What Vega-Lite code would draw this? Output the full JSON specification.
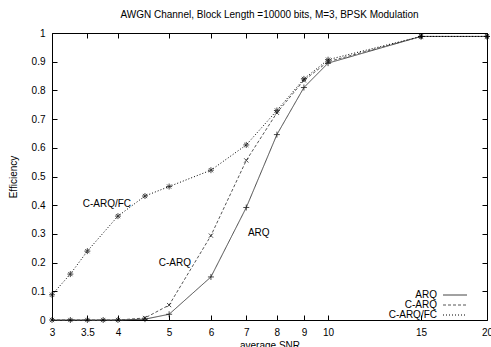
{
  "$schema": "https://vega.github.io/schema/vega-lite/v6.json",
  "width": 435,
  "height": 287,
  "autosize": {"type": "none"},
  "padding": {"left": 52, "top": 33, "right": 4, "bottom": 27},
  "background": "white",
  "config": {
    "font": "Liberation Sans",
    "view": {"stroke": "black", "strokeWidth": 1},
    "axis": {
      "grid": false,
      "domain": false,
      "tickColor": "black",
      "tickSize": -5,
      "labelFont": "Liberation Sans",
      "labelFontSize": 10,
      "labelColor": "black",
      "titleFont": "Liberation Sans",
      "titleFontSize": 10,
      "titleFontWeight": "normal",
      "titleColor": "black",
      "labelFlush": false
    },
    "legend": {
      "symbolType": "M-3,0H3",
      "symbolSize": 64,
      "symbolStrokeWidth": 1,
      "labelAlign": "right",
      "labelOffset": -23,
      "rowPadding": 0,
      "labelFontSize": 10,
      "labelFont": "Liberation Sans",
      "labelColor": "black"
    }
  },
  "title": {
    "text": "AWGN Channel, Block Length =10000 bits, M=3, BPSK Modulation",
    "fontSize": 10,
    "fontWeight": "normal",
    "font": "Liberation Sans",
    "anchor": "middle",
    "offset": 8
  },
  "datasets": {
    "curves": [
      {"series": "ARQ", "snr": 3, "eff": 0},
      {"series": "ARQ", "snr": 3.25, "eff": 0},
      {"series": "ARQ", "snr": 3.5, "eff": 0},
      {"series": "ARQ", "snr": 3.75, "eff": 0},
      {"series": "ARQ", "snr": 4, "eff": 0},
      {"series": "ARQ", "snr": 4.5, "eff": 0.003},
      {"series": "ARQ", "snr": 5, "eff": 0.02},
      {"series": "ARQ", "snr": 6, "eff": 0.15},
      {"series": "ARQ", "snr": 7, "eff": 0.392},
      {"series": "ARQ", "snr": 8, "eff": 0.646},
      {"series": "ARQ", "snr": 9, "eff": 0.81},
      {"series": "ARQ", "snr": 10, "eff": 0.895},
      {"series": "ARQ", "snr": 15, "eff": 0.988},
      {"series": "ARQ", "snr": 20, "eff": 0.988},
      {"series": "C-ARQ", "snr": 3, "eff": 0},
      {"series": "C-ARQ", "snr": 3.25, "eff": 0},
      {"series": "C-ARQ", "snr": 3.5, "eff": 0},
      {"series": "C-ARQ", "snr": 3.75, "eff": 0},
      {"series": "C-ARQ", "snr": 4, "eff": 0},
      {"series": "C-ARQ", "snr": 4.5, "eff": 0.007},
      {"series": "C-ARQ", "snr": 5, "eff": 0.052},
      {"series": "C-ARQ", "snr": 6, "eff": 0.294},
      {"series": "C-ARQ", "snr": 7, "eff": 0.556},
      {"series": "C-ARQ", "snr": 8, "eff": 0.722},
      {"series": "C-ARQ", "snr": 9, "eff": 0.835},
      {"series": "C-ARQ", "snr": 10, "eff": 0.9},
      {"series": "C-ARQ", "snr": 15, "eff": 0.988},
      {"series": "C-ARQ", "snr": 20, "eff": 0.988},
      {"series": "C-ARQ/FC", "snr": 3, "eff": 0.088},
      {"series": "C-ARQ/FC", "snr": 3.25, "eff": 0.16},
      {"series": "C-ARQ/FC", "snr": 3.5, "eff": 0.24},
      {"series": "C-ARQ/FC", "snr": 4, "eff": 0.362},
      {"series": "C-ARQ/FC", "snr": 4.5, "eff": 0.432},
      {"series": "C-ARQ/FC", "snr": 5, "eff": 0.465},
      {"series": "C-ARQ/FC", "snr": 6, "eff": 0.522},
      {"series": "C-ARQ/FC", "snr": 7, "eff": 0.61},
      {"series": "C-ARQ/FC", "snr": 8, "eff": 0.73},
      {"series": "C-ARQ/FC", "snr": 9, "eff": 0.84},
      {"series": "C-ARQ/FC", "snr": 10, "eff": 0.907},
      {"series": "C-ARQ/FC", "snr": 15, "eff": 0.988},
      {"series": "C-ARQ/FC", "snr": 20, "eff": 0.988}
    ],
    "notes": [
      {"snr": 3.43, "eff": 0.404, "label": "C-ARQ/FC"},
      {"snr": 4.78, "eff": 0.199, "label": "C-ARQ"},
      {"snr": 7.05, "eff": 0.303, "label": "ARQ"}
    ]
  },
  "layer": [
    {
      "data": {"name": "curves"},
      "mark": {"type": "line", "strokeWidth": 1},
      "encoding": {
        "x": {
          "field": "snr", "type": "quantitative",
          "scale": {"type": "log", "domain": [3, 20], "nice": false},
          "axis": {"values": [3, 3.5, 4, 5, 6, 7, 8, 9, 10, 15, 20], "title": "average SNR", "labelPadding": 12, "titlePadding": 3, "format": "~g"}
        },
        "y": {
          "field": "eff", "type": "quantitative",
          "scale": {"domain": [0, 1], "nice": false},
          "axis": {"values": [0, 0.1, 0.2, 0.3, 0.4, 0.5, 0.6, 0.7, 0.8, 0.9, 1], "format": "~g", "title": "Efficiency", "labelPadding": 12, "titlePadding": 13}
        },
        "color": {
          "field": "series", "type": "nominal",
          "scale": {"domain": ["ARQ", "C-ARQ", "C-ARQ/FC"], "range": ["#444444", "#555555", "#000000"]},
          "legend": {"title": null, "orient": "none", "legendX": 398, "legendY": 257}
        },
        "strokeDash": {
          "field": "series", "type": "nominal",
          "scale": {"domain": ["ARQ", "C-ARQ", "C-ARQ/FC"], "range": [[1, 0], [3, 2], [1, 2]]},
          "legend": {"title": null, "orient": "none", "legendX": 398, "legendY": 257}
        }
      }
    },
    {
      "data": {"name": "curves"},
      "transform": [{"filter": "datum.series === 'ARQ'"}],
      "mark": {"type": "point", "filled": false, "strokeWidth": 1, "size": 36, "color": "black", "shape": "M-1,0H1M0,-1V1"},
      "encoding": {
        "x": {"field": "snr", "type": "quantitative", "scale": {"type": "log", "domain": [3, 20], "nice": false},
          "axis": {"orient": "top", "values": [3, 3.5, 4, 5, 6, 7, 8, 9, 10, 15, 20], "labels": false, "title": null}},
        "y": {"field": "eff", "type": "quantitative", "scale": {"domain": [0, 1], "nice": false},
          "axis": {"orient": "right", "values": [0, 0.1, 0.2, 0.3, 0.4, 0.5, 0.6, 0.7, 0.8, 0.9, 1], "labels": false, "title": null}}
      }
    },
    {
      "data": {"name": "curves"},
      "transform": [{"filter": "datum.series === 'C-ARQ'"}],
      "mark": {"type": "point", "filled": false, "strokeWidth": 1, "size": 36, "color": "black", "shape": "M-0.7,-0.7L0.7,0.7M-0.7,0.7L0.7,-0.7"},
      "encoding": {
        "x": {"field": "snr", "type": "quantitative", "scale": {"type": "log", "domain": [3, 20], "nice": false}, "axis": null},
        "y": {"field": "eff", "type": "quantitative", "scale": {"domain": [0, 1], "nice": false}, "axis": null}
      }
    },
    {
      "data": {"name": "curves"},
      "transform": [{"filter": "datum.series === 'C-ARQ/FC'"}],
      "mark": {"type": "point", "filled": false, "strokeWidth": 1, "size": 36, "color": "black", "shape": "M-1,0H1M0,-1V1M-0.7,-0.7L0.7,0.7M-0.7,0.7L0.7,-0.7"},
      "encoding": {
        "x": {"field": "snr", "type": "quantitative", "scale": {"type": "log", "domain": [3, 20], "nice": false}, "axis": null},
        "y": {"field": "eff", "type": "quantitative", "scale": {"domain": [0, 1], "nice": false}, "axis": null}
      }
    },
    {
      "data": {"name": "notes"},
      "mark": {"type": "text", "align": "left", "baseline": "middle", "fontSize": 10, "font": "Liberation Sans", "color": "black"},
      "encoding": {
        "x": {"field": "snr", "type": "quantitative", "scale": {"type": "log", "domain": [3, 20], "nice": false}, "axis": null},
        "y": {"field": "eff", "type": "quantitative", "scale": {"domain": [0, 1], "nice": false}, "axis": null},
        "text": {"field": "label"}
      }
    }
  ],
  "resolve": {"axis": {"x": "independent", "y": "independent"}}
}
